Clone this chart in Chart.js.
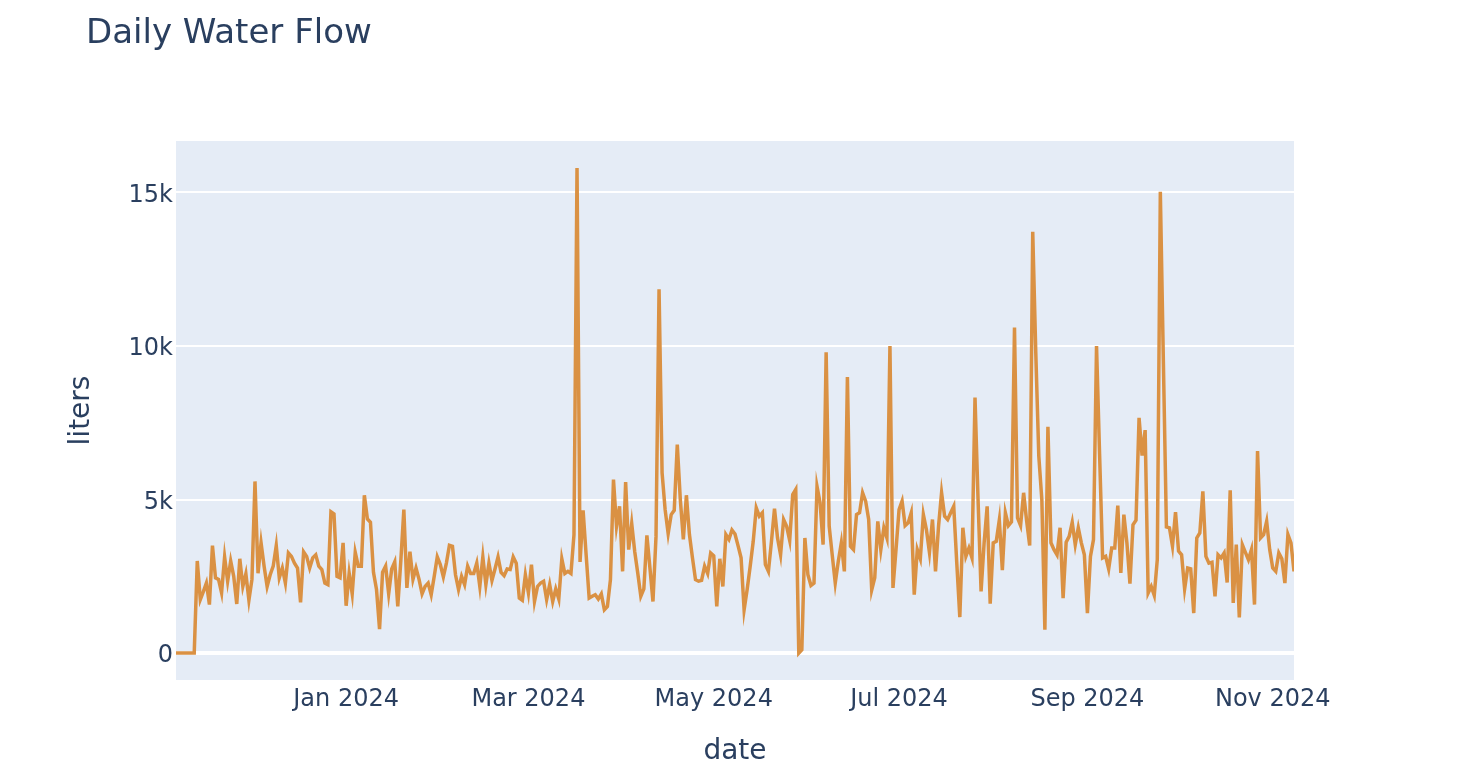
<!DOCTYPE html>
<html><head><meta charset="utf-8">
<script src="https://cdn.jsdelivr.net/npm/chart.js@4.4.1/dist/chart.umd.min.js"></script>
<style>html,body{margin:0;padding:0;background:#fff;} canvas{display:block;}</style>
</head><body>
<canvas id="c" width="1468" height="780"></canvas>
<script>
const chartTitle = 'Daily Water Flow';
const xAxisTitle = 'date';
const yAxisTitle = 'liters';
const startDate = '2023-11-06';
const flowLiters = [
  0,0,0,0,0,0,0,3000,1740,2000,
  2280,1580,3500,2450,2400,1960,3130,2340,3000,2500,
  1600,3070,2170,2580,1720,2400,5590,2600,3590,2830,
  2170,2550,2830,3500,2450,2770,2280,3260,3150,2930,
  2770,1650,3300,3150,2770,3100,3200,2830,2720,2280,
  2230,4600,4530,2500,2450,3590,1540,2600,1930,3280,
  2830,2830,5140,4370,4260,2630,2070,780,2630,2830,
  1930,2740,2970,1520,3000,4670,2120,3300,2400,2770,
  2400,1930,2170,2280,1900,2500,3130,2880,2480,2930,
  3510,3480,2550,2070,2500,2230,2830,2590,2590,2930,
  2170,3130,2230,2930,2370,2740,3130,2630,2520,2740,
  2720,3130,2930,1790,1720,2550,1960,2880,1680,2170,
  2280,2340,1740,2230,1680,2090,1760,3070,2590,2660,
  2590,3860,15800,2970,4650,3200,1790,1850,1900,1760,
  1930,1410,1520,2390,5650,4130,4780,2660,5570,3370,
  4220,3300,2600,1850,2090,3830,2770,1680,3800,11850,
  5870,4670,3890,4510,4650,6790,5000,3700,5140,3860,
  3100,2390,2340,2370,2830,2590,3260,3170,1520,3070,
  2170,3860,3700,4010,3880,3500,3100,1410,2070,2830,
  3640,4730,4460,4570,2880,2660,3640,4700,3750,3200,
  4350,4130,3670,5160,5330,0,110,3750,2550,2200,
  2280,5430,4900,3530,9800,4130,3200,2280,2990,3590,
  2660,8990,3480,3370,4510,4570,5220,4950,4350,2050,
  2450,4290,3370,4080,3750,10000,2120,3370,4670,4950,
  4150,4240,4570,1900,3370,3070,4510,4020,3280,4350,
  2660,4130,5220,4460,4350,4570,4780,2930,1170,4080,
  3150,3420,3100,8320,5000,2010,3590,4780,1610,3590,
  3640,4330,2700,4570,4150,4270,10600,4400,4150,5220,
  4300,3500,13720,9800,6410,5000,760,7370,3590,3370,
  3200,4080,1790,3610,3800,4260,3530,4080,3590,3200,
  1300,3150,3700,10000,6500,3100,3150,2740,3420,3420,
  4800,2610,4510,3590,2260,4180,4330,7660,6430,7260,
  1960,2170,1880,3040,15020,9500,4110,4080,3480,4590,
  3320,3200,2090,2770,2740,1300,3750,3910,5270,3150,
  2930,2960,1850,3200,3100,3260,2300,5300,1630,3530,
  1160,3530,3280,3040,3370,1580,6580,3750,3860,4290,
  3370,2770,2660,3260,3070,2280,3860,3590,2660
];
const xTickDates = ['2024-01-01','2024-03-01','2024-05-01','2024-07-01','2024-09-01','2024-11-01'];
const xTickLabels = ['Jan 2024','Mar 2024','May 2024','Jul 2024','Sep 2024','Nov 2024'];
const yTickValues = [0, 5000, 10000, 15000];
const yTickLabels = ['0', '5k', '10k', '15k'];

const DAY = 86400000;
const t0 = Date.parse(startDate + 'T00:00:00Z');
const dates = flowLiters.map((_, i) => t0 + i * DAY);
const points = flowLiters.map((v, i) => ({x: dates[i], y: v}));
const xTicksMs = xTickDates.map(d => Date.parse(d + 'T00:00:00Z'));

const yMinData = Math.min(...flowLiters), yMaxData = Math.max(...flowLiters);
const yPad = (yMaxData - yMinData) * 0.0555;

const FONT = '"DejaVu Sans", Verdana, sans-serif';
const TXT = '#2a3f5f';

const bgPlugin = {
  id: 'plotBg',
  beforeDraw(chart) {
    const {ctx, chartArea: a} = chart;
    ctx.save();
    ctx.fillStyle = '#ffffff';
    ctx.fillRect(0, 0, chart.width, chart.height);
    ctx.fillStyle = '#E5ECF6';
    ctx.fillRect(a.left, a.top, a.right - a.left, a.bottom - a.top);
    ctx.restore();
  }
};
const titlePlugin = {
  id: 'plotTitle',
  afterDraw(chart) {
    const ctx = chart.ctx;
    ctx.save();
    ctx.font = '34px ' + FONT;
    ctx.fillStyle = TXT;
    ctx.textBaseline = 'alphabetic';
    ctx.textAlign = 'left';
    ctx.fillText(chartTitle, 86, 43);
    ctx.restore();
  }
};

new Chart(document.getElementById('c'), {
  type: 'line',
  data: {
    datasets: [{
      data: points,
      borderColor: '#DA9143',
      borderWidth: 3.5,
      pointRadius: 0,
      tension: 0,
      fill: false
    }]
  },
  options: {
    responsive: false,
    animation: false,
    events: [],
    layout: {padding: {left: 0, right: 174, top: 141, bottom: 0}},
    plugins: {legend: {display: false}, tooltip: {enabled: false}, title: {display: false}},
    scales: {
      x: {
        type: 'linear',
        min: dates[0],
        max: dates[dates.length - 1],
        afterFit(s) { s.height = 100; },
        afterBuildTicks(s) { s.ticks = xTicksMs.map(v => ({value: v})); },
        grid: {display: false, drawTicks: false},
        border: {display: false},
        ticks: {
          autoSkip: false, maxRotation: 0, padding: 5,
          color: TXT, font: {family: FONT, size: 24},
          callback(v) { const k = xTicksMs.indexOf(v); return k >= 0 ? xTickLabels[k] : ''; }
        },
        title: {display: true, text: xAxisTitle, color: TXT, font: {family: FONT, size: 28}, padding: {top: 0, bottom: 11}}
      },
      y: {
        type: 'linear',
        min: yMinData - yPad,
        max: yMaxData + yPad,
        afterFit(s) { s.width = 176; },
        afterBuildTicks(s) { s.ticks = yTickValues.map(v => ({value: v})); },
        grid: {
          color: '#ffffff',
          lineWidth: (c) => (c.tick && c.tick.value === 0) ? 4 : 2,
          drawTicks: false
        },
        border: {display: false},
        ticks: {
          autoSkip: false, padding: 3, labelOffset: 3,
          color: TXT, font: {family: FONT, size: 24},
          callback(v) { const k = yTickValues.indexOf(v); return k >= 0 ? yTickLabels[k] : ''; }
        },
        title: {display: true, text: yAxisTitle, color: TXT, font: {family: FONT, size: 28}, padding: {top: 65, bottom: 0}}
      }
    }
  },
  plugins: [bgPlugin, titlePlugin]
});
</script>
</body></html>
